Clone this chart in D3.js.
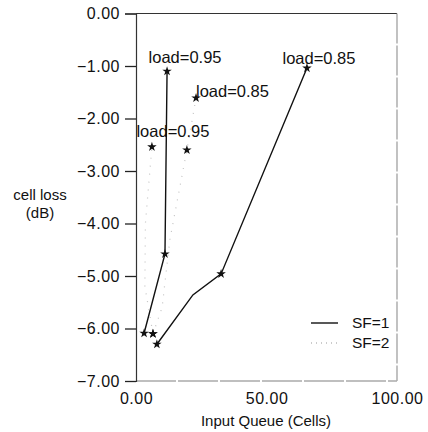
<!DOCTYPE html>
<html>
<head>
<meta charset="utf-8">
<script src="https://cdn.jsdelivr.net/npm/d3@7"></script>
<style>
  body { margin: 0; background: #fff; }
  text { font-family: "Liberation Sans", Arial, sans-serif; fill: #111; }
</style>
</head>
<body>
<svg id="chart" width="428" height="432"></svg>
<script>
// tick values
var xTicks = [0, 50, 100];
var yTicks = [0, -1, -2, -3, -4, -5, -6, -7];

// SF=1 (solid)
var sf1Load95X = [3.1, 11.1, 11.9];
var sf1Load95Y = [-6.09, -4.58, -1.10];
var sf1Load85X = [8.0, 21.8, 32.6, 65.5];
var sf1Load85Y = [-6.30, -5.36, -4.96, -1.04];

// SF=2 (dotted)
var sf2Load95X = [6.5, 3.4, 3.6, 6.1];
var sf2Load95Y = [-6.10, -5.20, -4.00, -2.54];
var sf2Load85X = [6.5, 10.0, 13.0, 19.5, 23.0];
var sf2Load85Y = [-6.10, -5.60, -4.30, -2.60, -1.61];

// which points get a star
var sf1Load95Stars = [0, 1, 2];
var sf1Load85Stars = [0, 2, 3];
var sf2Load95Stars = [0, 3];
var sf2Load85Stars = [0, 3, 4];

var legendNames = ["SF=1", "SF=2"];

var svg = d3.select("#chart");

var x = d3.scaleLinear().domain([0, 100]).range([136, 397]);
var y = d3.scaleLinear().domain([0, -7]).range([13.5, 381]);

function zip(xs, ys) {
  return xs.map(function(v, i) { return [v, ys[i]]; });
}

var series = [
  { pts: zip(sf1Load95X, sf1Load95Y), stars: sf1Load95Stars, solid: true },
  { pts: zip(sf1Load85X, sf1Load85Y), stars: sf1Load85Stars, solid: true },
  { pts: zip(sf2Load95X, sf2Load95Y), stars: sf2Load95Stars, solid: false },
  { pts: zip(sf2Load85X, sf2Load85Y), stars: sf2Load85Stars, solid: false }
];

// frame
svg.append("line")
  .attr("x1", x(0)).attr("x2", x(100))
  .attr("y1", y(0)).attr("y2", y(0))
  .attr("stroke", "#333").attr("stroke-width", 1.2);
svg.append("line")
  .attr("x1", x(100)).attr("x2", x(100))
  .attr("y1", y(0)).attr("y2", y(-7))
  .attr("stroke", "#999").attr("stroke-width", 1.2)
  .attr("stroke-dasharray", "30,2");
svg.append("line")
  .attr("x1", x(0)).attr("x2", x(100))
  .attr("y1", y(-7)).attr("y2", y(-7))
  .attr("stroke", "#aaa").attr("stroke-width", 1.5)
  .attr("stroke-dasharray", "40,2");

// y axis
var yAxis = d3.axisLeft(y)
  .tickValues(yTicks)
  .tickSize(11)
  .tickPadding(5)
  .tickFormat(function(d) { return d3.format(".2f")(d).replace("-", "\u2212"); });

var yAxisGroup = svg.append("g")
  .attr("transform", "translate(" + x(0) + ",0)")
  .call(yAxis);
yAxisGroup.select(".domain").attr("stroke", "#333").attr("stroke-width", 1.2);
yAxisGroup.selectAll(".tick line").attr("stroke", "#222").attr("stroke-width", 1.3);
yAxisGroup.selectAll("text")
  .style("font-size", "16px")
  .style("letter-spacing", "0.5px")
  .attr("fill", "#111");

// x tick labels (no tick marks)
var xAxis = d3.axisBottom(x)
  .tickValues(xTicks)
  .tickSize(0)
  .tickPadding(12)
  .tickFormat(d3.format(".2f"));
var xAxisGroup = svg.append("g")
  .attr("transform", "translate(0," + y(-7) + ")")
  .call(xAxis);
xAxisGroup.select(".domain").remove();
xAxisGroup.selectAll("text")
  .style("font-size", "16px")
  .style("letter-spacing", "0.5px")
  .attr("fill", "#111");

// axis titles
svg.append("text")
  .attr("x", 266).attr("y", 426)
  .attr("text-anchor", "middle")
  .style("font-size", "15px")
  .text("Input Queue (Cells)");
svg.append("text")
  .attr("x", 40).attr("y", 200)
  .attr("text-anchor", "middle")
  .style("font-size", "15px")
  .text("cell loss");
svg.append("text")
  .attr("x", 40).attr("y", 218)
  .attr("text-anchor", "middle")
  .style("font-size", "15px")
  .text("(dB)");

// curves
var line = d3.line()
  .x(function(d) { return x(d[0]); })
  .y(function(d) { return y(d[1]); });

var star = d3.symbol().type(d3.symbolStar).size(28);

series.forEach(function(s) {
  svg.append("path")
    .datum(s.pts)
    .attr("d", line)
    .attr("fill", "none")
    .attr("stroke", s.solid ? "#111" : "#c4c4c4")
    .attr("stroke-width", s.solid ? 1.4 : 1.2)
    .attr("stroke-dasharray", s.solid ? null : "1,7");

  svg.selectAll(null)
    .data(s.stars.map(function(i) { return s.pts[i]; }))
    .enter().append("path")
    .attr("d", star)
    .attr("transform", function(d) { return "translate(" + x(d[0]) + "," + y(d[1]) + ")"; })
    .attr("fill", "#111");
});

// load annotations, placed next to the last point of each curve
var annotations = [
  { text: "load=0.95", pt: series[0].pts[2], dx: 18, dy: -8, anchor: "middle" },
  { text: "load=0.85", pt: series[1].pts[3], dx: 12, dy: -4, anchor: "middle" },
  { text: "load=0.95", pt: series[2].pts[3], dx: 21, dy: -10, anchor: "middle" },
  { text: "load=0.85", pt: series[3].pts[4], dx: 0, dy: -1, anchor: "start" }
];
annotations.forEach(function(a) {
  svg.append("text")
    .attr("x", x(a.pt[0]) + a.dx)
    .attr("y", y(a.pt[1]) + a.dy)
    .attr("text-anchor", a.anchor)
    .style("font-size", "16.5px")
    .text(a.text);
});

// legend
var legend = svg.append("g").attr("transform", "translate(311,323)");
legendNames.forEach(function(name, i) {
  legend.append("line")
    .attr("x1", 0).attr("x2", 27)
    .attr("y1", i * 20).attr("y2", i * 20)
    .attr("stroke", i === 0 ? "#111" : "#bbb")
    .attr("stroke-width", 1.4)
    .attr("stroke-dasharray", i === 0 ? null : "1,4");
  legend.append("text")
    .attr("x", 41).attr("y", i * 20 + 5)
    .style("font-size", "15.5px")
    .text(name);
});
</script>
</body>
</html>
